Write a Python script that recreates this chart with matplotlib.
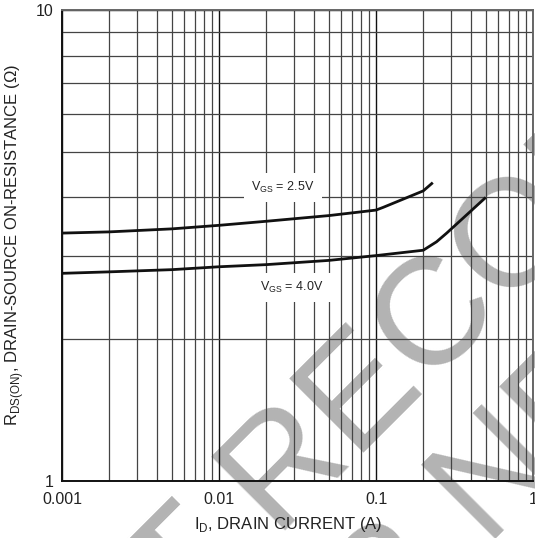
"""RDS(ON) vs drain current chart, log-log, with datasheet watermark."""

import matplotlib
matplotlib.use("Agg")

import matplotlib.pyplot as plt
from matplotlib.ticker import FixedLocator, NullFormatter

# ── data ────────────────────────────────────────────────
id_25v = [0.001, 0.002, 0.005, 0.01, 0.02, 0.05, 0.1, 0.111, 0.2, 0.23]
rds_25v = [3.36, 3.38, 3.43, 3.49, 3.56, 3.66, 3.76, 3.81, 4.13, 4.30]

id_40v = [0.001, 0.002, 0.005, 0.01, 0.02, 0.05, 0.1, 0.2, 0.243, 0.282, 0.5]
rds_40v = [2.76, 2.78, 2.81, 2.85, 2.88, 2.94, 3.01, 3.09, 3.22, 3.36, 4.00]

x_ticks = [0.001, 0.01, 0.1, 1]
x_tick_labels = ["0.001", "0.01", "0.1", "1"]
y_ticks = [1, 10]
y_tick_labels = ["1", "10"]

TEXT = "#222222"

plt.rcParams["font.family"] = ["Liberation Sans", "DejaVu Sans"]
plt.rcParams["mathtext.fontset"] = "custom"
plt.rcParams["mathtext.rm"] = "Liberation Sans"

fig = plt.figure(figsize=(5.35, 5.38), dpi=100)
ax = fig.add_axes([62 / 535, 1 - 481 / 538, 471 / 535, 471 / 538])
ax.set_facecolor("none")

# watermark behind everything
wm = dict(fontsize=110, color="#b3b3b3", rotation=45, rotation_mode="anchor",
          ha="center", va="baseline", zorder=-5)
fig.text(584 / 535, 1 - 232 / 538, "NOT RECOMMENDED", **wm)
fig.text(706 / 535, 1 - 328 / 538, "FOR NEW DESIGN", **wm)

ax.set_xscale("log")
ax.set_yscale("log")
ax.set_xlim(0.001, 1)
ax.set_ylim(1, 10)

ax.xaxis.set_major_locator(FixedLocator(x_ticks))
ax.yaxis.set_major_locator(FixedLocator(y_ticks))
ax.set_xticklabels(x_tick_labels)
ax.set_yticklabels(y_tick_labels)
ax.xaxis.set_minor_formatter(NullFormatter())
ax.yaxis.set_minor_formatter(NullFormatter())
ax.tick_params(which="both", length=0, labelsize=11.5, labelcolor=TEXT)
ax.tick_params(axis="x", pad=8)
ax.tick_params(axis="y", pad=6)

ax.grid(which="major", color="#111111", linewidth=1.0)
ax.grid(which="minor", color="#444444", linewidth=0.9)
ax.set_axisbelow(True)

for side in ("left", "bottom"):
    ax.spines[side].set_color("#111111")
    ax.spines[side].set_linewidth(1.4)
for side in ("top", "right"):
    ax.spines[side].set_color("#666666")
    ax.spines[side].set_linewidth(1.4)

ax.plot(id_25v, rds_25v, color="#111111", linewidth=2.0, solid_capstyle="butt", zorder=4)
ax.plot(id_40v, rds_40v, color="#111111", linewidth=2.0, solid_capstyle="butt", zorder=4)

box = dict(facecolor="white", edgecolor="none", pad=5)
ax.text(0.0256, 4.19, r"V$_{\mathregular{GS}}$ = 2.5V", fontsize=9, color=TEXT,
        ha="center", va="center", bbox=box, zorder=5)
ax.text(0.0292, 2.57, r"V$_{\mathregular{GS}}$ = 4.0V", fontsize=9, color=TEXT,
        ha="center", va="center", bbox=box, zorder=5)

fig.text(288 / 535, 1 - 525 / 538, r"I$_{\mathregular{D}}$, DRAIN CURRENT (A)",
         fontsize=12, color=TEXT, ha="center", va="center")
fig.text(15 / 535, 1 - 245 / 538,
         r"R$_{\mathregular{DS(ON)}}$, DRAIN-SOURCE ON-RESISTANCE (Ω)",
         fontsize=12, color=TEXT, ha="center", va="center", rotation=90)

fig.savefig("out.png", dpi=100)
